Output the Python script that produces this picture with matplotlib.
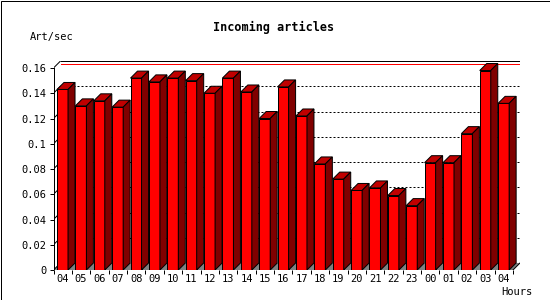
import matplotlib
matplotlib.use('Agg')
import matplotlib.pyplot as plt
from matplotlib.patches import Polygon, Rectangle

# hourly rates
hours = ['04', '05', '06', '07', '08', '09', '10', '11', '12', '13', '14', '15', '16',
         '17', '18', '19', '20', '21', '22', '23', '00', '01', '02', '03', '04']
rate = [0.143, 0.130, 0.134, 0.129, 0.152, 0.149, 0.152, 0.150, 0.140, 0.152, 0.141, 0.120, 0.145,
        0.122, 0.084, 0.072, 0.063, 0.065, 0.059, 0.051, 0.085, 0.085, 0.108, 0.158, 0.132]
yticks = [0, 0.02, 0.04, 0.06, 0.08, 0.1, 0.12, 0.14, 0.16]

plt.rcParams['font.family'] = ['DejaVu Sans Mono']
W, H = 550, 300
DEPTH = 7  # px of 3d offset
PX = 1 / 100 * 72  # one pixel in points

fig = plt.figure(figsize=(W / 100, H / 100), dpi=100)
fig.patch.set_facecolor('white')
left, right, bottom, top = 53.5, 520, 270, 61
ax = fig.add_axes([left / W, (H - bottom) / H, (right - left) / W, (bottom - top) / H])

n = len(rate)
ymax = yticks[-1]
ddx = DEPTH * n / ((right - left) - DEPTH)
ddy = DEPTH * ymax / ((bottom - top) - DEPTH)
ax.set_xlim(0, n + ddx)
ax.set_ylim(0, ymax + ddy)
ax.set_facecolor('none')
for s in ax.spines.values():
    s.set_visible(False)

lw = PX

# floor
ax.add_patch(Polygon([(0, 0), (ddx, ddy), (n + ddx, ddy), (n, 0)], closed=True,
                     facecolor='#808080', edgecolor='none', zorder=1))

# grid on the back wall + the little diagonals
for v in yticks[:-1]:
    ax.plot([0, ddx], [v, v + ddy], color='black', lw=lw, zorder=1.5)
    if v > 0:
        ax.plot([ddx, n + ddx], [v + ddy, v + ddy], color='black', lw=lw,
                linestyle=(0, (2, 2)), zorder=1.5)

# max line
ax.plot([ddx, n + ddx], [max(rate) + ddy, max(rate) + ddy], color='red', lw=lw, zorder=1.6)

# frame
frame_kw = dict(color='black', lw=lw, zorder=5, solid_capstyle='projecting')
ax.plot([0, 0], [0, ymax], **frame_kw)
ax.plot([0, ddx], [ymax, ymax + ddy], **frame_kw)
ax.plot([ddx, n + ddx], [ymax + ddy, ymax + ddy], **frame_kw)
ax.plot([n + ddx, n + ddx], [ymax + ddy, ddy], **frame_kw)
ax.plot([n + ddx, n], [ddy, 0], **frame_kw)
ax.plot([0, n], [0, 0], **frame_kw)

# bars
off, bw = 0.19, 0.6
xs = [i + off for i in range(n)]
ax.bar(xs, rate, width=bw, align='edge', color='#ff0000', edgecolor='black',
       linewidth=lw, zorder=3)
for x0, v in zip(xs, rate):
    x1 = x0 + bw
    ax.add_patch(Polygon([(x0, v), (x0 + ddx, v + ddy), (x1 + ddx, v + ddy), (x1, v)],
                         closed=True, facecolor='#c00000', edgecolor='black', lw=lw, zorder=3))
    ax.add_patch(Polygon([(x1, 0), (x1 + ddx, ddy), (x1 + ddx, v + ddy), (x1, v)],
                         closed=True, facecolor='#800000', edgecolor='black', lw=lw, zorder=3))

# ticks
ax.set_yticks(yticks)
ax.set_yticklabels(['%g' % t for t in yticks])
ax.set_xticks(range(n + 1))
ax.set_xticklabels([])
ax.set_xticks([i + 0.5 for i in range(n)], minor=True)
ax.set_xticklabels(hours, minor=True)
ax.tick_params(axis='both', which='major', direction='out', length=3, width=lw,
               color='black', labelsize=7.5, pad=2)
ax.tick_params(axis='x', which='minor', length=0, labelsize=7.5, pad=3)

fig.text(274 / W, 1 - 27 / H, 'Incoming articles', ha='center', va='center',
         fontsize=8.5, fontweight='bold')
fig.text(30 / W, 1 - 37 / H, 'Art/sec', ha='left', va='center', fontsize=7.5)
fig.text(533 / W, 1 - 292 / H, 'Hours', ha='right', va='center', fontsize=7.5)

fig.add_artist(Rectangle((0.5 / W, 0.5 / H), 1 - 1 / W, 1 - 1 / H, transform=fig.transFigure,
                         fill=False, edgecolor='black', lw=lw))

fig.savefig('out.png', dpi=100)
